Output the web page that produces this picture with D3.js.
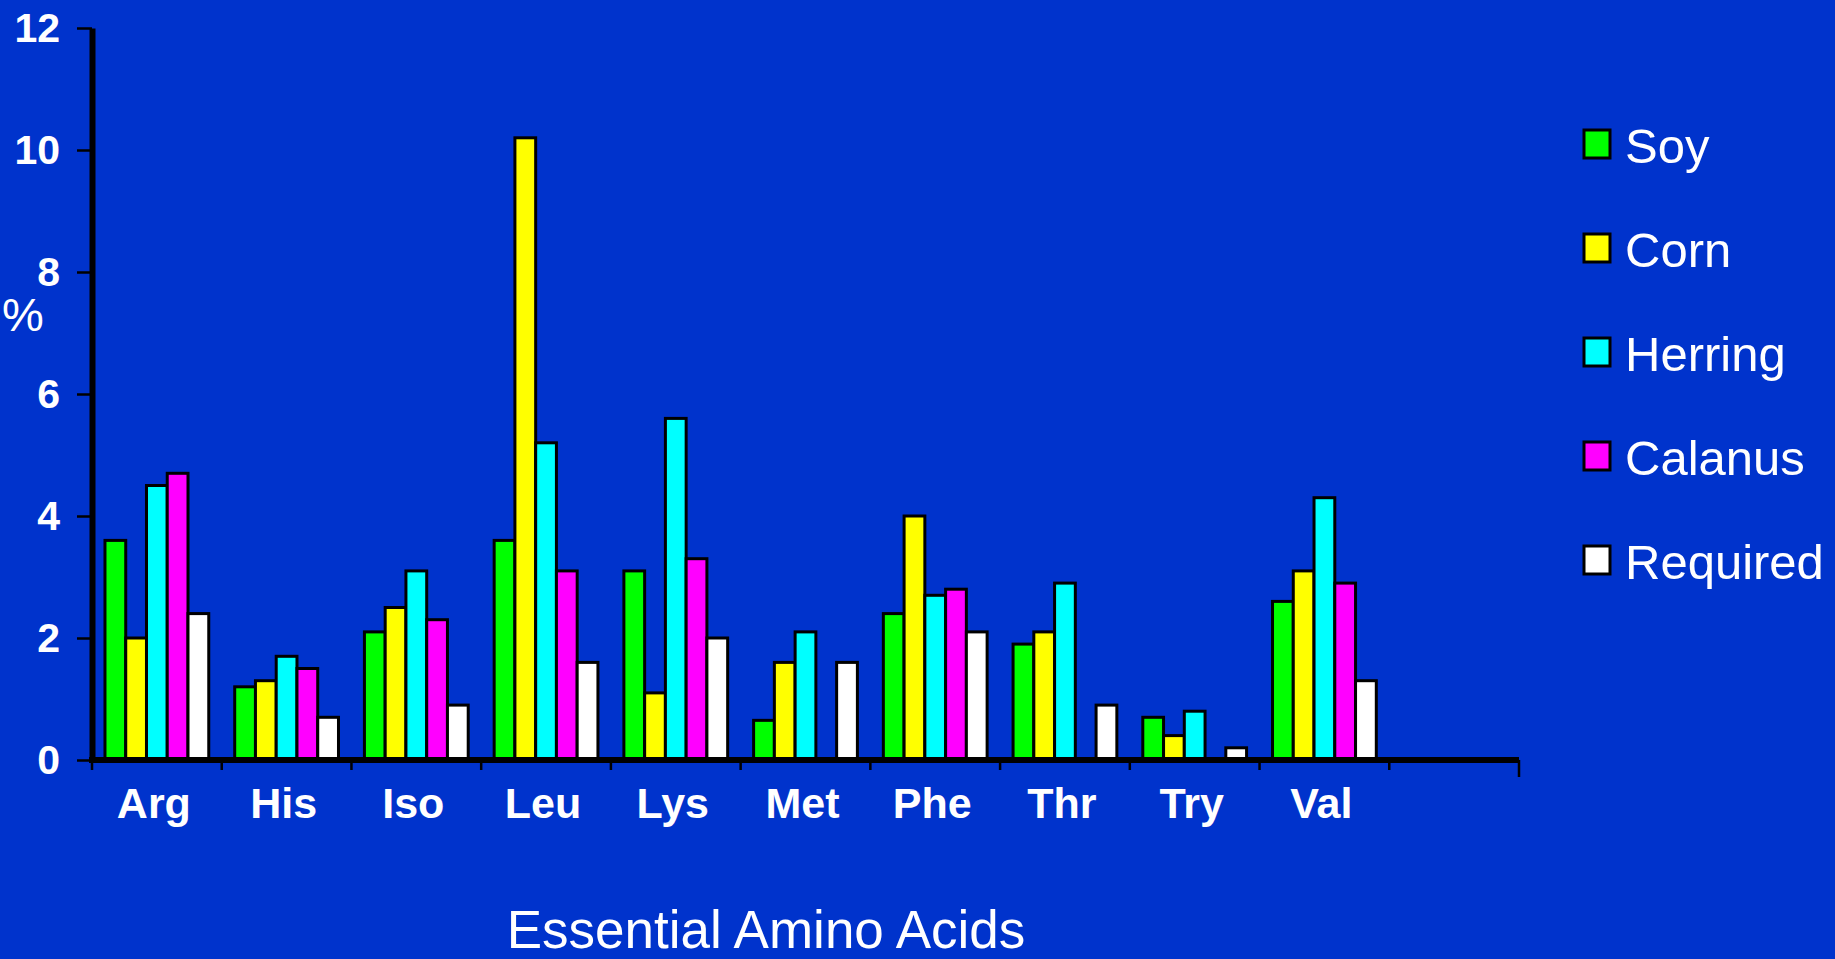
<!DOCTYPE html>
<html>
<head>
<meta charset="utf-8">
<script src="https://cdn.jsdelivr.net/npm/d3@7"></script>
<style>
  html, body { margin: 0; padding: 0; background: #0033cc; }
  svg { display: block; }
</style>
</head>
<body>
<svg></svg>
<script>
// amino acid categories and values (%)
let categories = ["Arg", "His", "Iso", "Leu", "Lys", "Met", "Phe", "Thr", "Try", "Val"];
let series_names = ["Soy", "Corn", "Herring", "Calanus", "Required"];
let series_colors = ["#00ff00", "#ffff00", "#00ffff", "#ff00ff", "#ffffff"];

let soy      = [3.6, 1.2, 2.1, 3.6, 3.1, 0.65, 2.4, 1.9, 0.7, 2.6];
let corn     = [2.0, 1.3, 2.5, 10.2, 1.1, 1.6, 4.0, 2.1, 0.4, 3.1];
let herring  = [4.5, 1.7, 3.1, 5.2, 5.6, 2.1, 2.7, 2.9, 0.8, 4.3];
let calanus  = [4.7, 1.5, 2.3, 3.1, 3.3, null, 2.8, null, null, 2.9];
let required = [2.4, 0.7, 0.9, 1.6, 2.0, 1.6, 2.1, 0.9, 0.2, 1.3];

let y_ticks = [0, 2, 4, 6, 8, 10, 12];

let series_values = [soy, corn, herring, calanus, required];

let width = 1835;
let height = 959;
let font_family = "Liberation Sans, Arial, sans-serif";

let left = 92;
let right = 1519;
let top_y = 28;
let bottom_y = 760;
let slots = categories.length + 1; // one empty slot at the end of the axis
let band_width = (right - left) / slots;

let svg = d3.select("svg")
    .attr("width", width)
    .attr("height", height);

svg.append("rect")
    .attr("width", width)
    .attr("height", height)
    .attr("fill", "#0033cc");

let x0 = d3.scaleBand()
    .domain(categories)
    .range([left, left + band_width * categories.length]);

let x1 = d3.scaleBand()
    .domain(series_names)
    .range([band_width * 0.1, band_width * 0.9]);

let y = d3.scaleLinear()
    .domain([0, 12])
    .range([bottom_y, top_y]);

// bars
let groups = svg.append("g")
    .selectAll("g")
    .data(categories)
    .join("g")
    .attr("transform", d => "translate(" + x0(d) + ",0)");

groups.selectAll("rect")
    .data((c, i) => series_names.map((s, k) => ({ name: s, value: series_values[k][i], color: series_colors[k] })))
    .join("rect")
    .filter(d => d.value != null)
    .attr("x", d => x1(d.name))
    .attr("y", d => y(d.value))
    .attr("width", x1.bandwidth())
    .attr("height", d => bottom_y - y(d.value))
    .attr("fill", d => d.color)
    .attr("stroke", "black")
    .attr("stroke-width", 3);

// y axis
let y_axis = svg.append("g")
    .attr("transform", "translate(" + left + ",0)")
    .call(d3.axisLeft(y).tickValues(y_ticks).tickSize(15).tickSizeOuter(0).tickPadding(17));

y_axis.select(".domain")
    .attr("stroke", "black")
    .attr("stroke-width", 6);

y_axis.selectAll(".tick line")
    .attr("stroke", "black")
    .attr("stroke-width", 2.5);

y_axis.selectAll(".tick text")
    .attr("fill", "white")
    .attr("font-family", font_family)
    .attr("font-size", "41px")
    .attr("font-weight", "bold");

// x axis line and tick marks at band edges
svg.append("line")
    .attr("x1", left - 3)
    .attr("y1", bottom_y)
    .attr("x2", right)
    .attr("y2", bottom_y)
    .attr("stroke", "black")
    .attr("stroke-width", 6);

let edges = d3.range(slots + 1).map(i => left + i * band_width);
svg.append("g")
    .selectAll("line")
    .data(edges)
    .join("line")
    .attr("x1", d => d)
    .attr("x2", d => d)
    .attr("y1", bottom_y)
    .attr("y2", (d, i) => i === slots ? bottom_y + 17 : bottom_y + 10)
    .attr("stroke", "black")
    .attr("stroke-width", 2.5);

svg.append("g")
    .selectAll("text")
    .data(categories)
    .join("text")
    .attr("x", d => x0(d) + band_width / 2 - 3)
    .attr("y", 818)
    .attr("text-anchor", "middle")
    .attr("fill", "white")
    .attr("font-family", font_family)
    .attr("font-size", "43px")
    .attr("font-weight", "bold")
    .text(d => d);

// axis titles
svg.append("text")
    .attr("x", 2)
    .attr("y", 331)
    .attr("fill", "white")
    .attr("font-family", font_family)
    .attr("font-size", "47px")
    .text("%");

svg.append("text")
    .attr("x", 766)
    .attr("y", 948)
    .attr("text-anchor", "middle")
    .attr("fill", "white")
    .attr("font-family", font_family)
    .attr("font-size", "53px")
    .text("Essential Amino Acids");

// legend
let legend = svg.append("g")
    .selectAll("g")
    .data(series_names)
    .join("g")
    .attr("transform", (d, i) => "translate(1583," + (144 + i * 104) + ")");

legend.append("rect")
    .attr("x", 1)
    .attr("y", -14)
    .attr("width", 26)
    .attr("height", 28)
    .attr("fill", (d, i) => series_colors[i])
    .attr("stroke", "black")
    .attr("stroke-width", 3);

legend.append("text")
    .attr("x", 42)
    .attr("y", 19)
    .attr("fill", "white")
    .attr("font-family", font_family)
    .attr("font-size", "49px")
    .text(d => d);
</script>
</body>
</html>
